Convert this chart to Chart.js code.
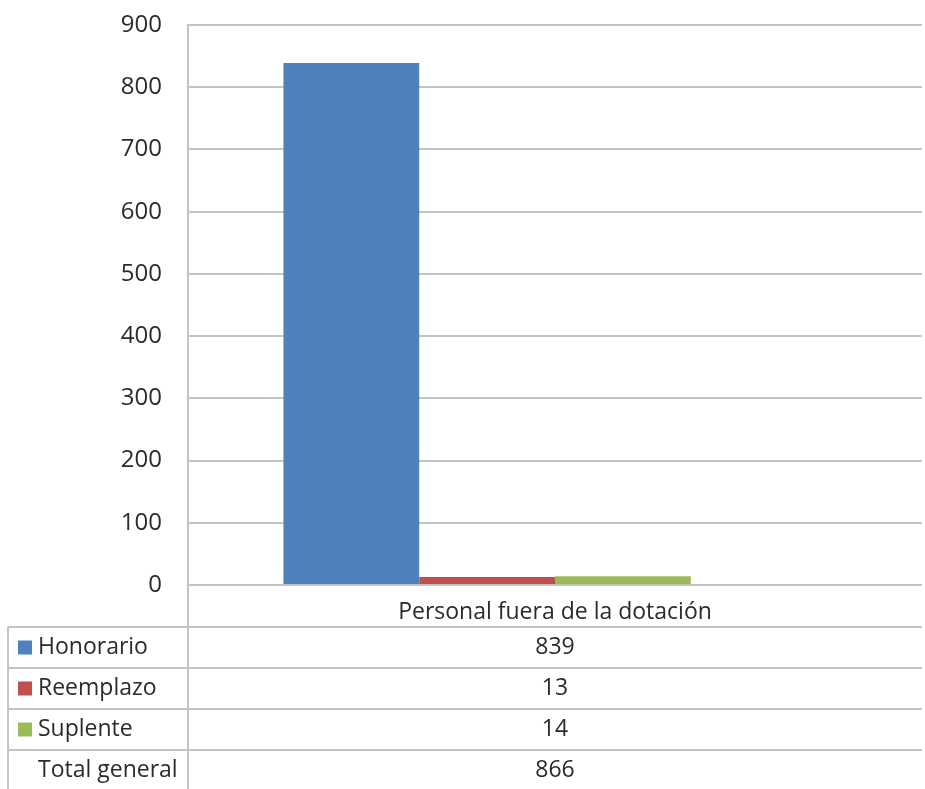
<!DOCTYPE html>
<html>
<head>
<meta charset="utf-8">
<script src="https://cdn.jsdelivr.net/npm/chart.js@4/dist/chart.umd.min.js"></script>
<style>
  body { margin: 0; background: #fff; }
  canvas { display: block; }
</style>
</head>
<body>
<canvas id="chart" width="925" height="789"></canvas>
<script>
// Datos
const categories = ['Personal fuera de la dotación'];
const seriesNames = ['Honorario', 'Reemplazo', 'Suplente', 'Total general'];
const honorario = [839];
const reemplazo = [13];
const suplente = [14];
const totalGeneral = [866];
const yTicks = [0, 100, 200, 300, 400, 500, 600, 700, 800, 900];

const colors = ['#4F81BD', '#C0504D', '#9BBB59', 'rgba(0,0,0,0)'];
const seriesValues = [honorario, reemplazo, suplente, totalGeneral];

const FONT = '"Open Sans", sans-serif';
const GRID = '#c4c4c4';
const TEXT = '#2b2b2b';
const xAxisHeight = 42;
const rowH = 41;

// Tabla de datos bajo el gráfico
const dataTable = {
    id: 'dataTable',
    afterDraw(chart) {
        const { ctx, chartArea } = chart;
        const left = 8;
        const top = chartArea.bottom + xAxisHeight;
        const bottom = chart.height;
        ctx.save();
        ctx.strokeStyle = GRID;
        ctx.lineWidth = 2;
        // lineas horizontales
        for (let i = 0; i < seriesNames.length; i++) {
            const y = top + i * rowH;
            ctx.beginPath();
            ctx.moveTo(left, y);
            ctx.lineTo(chartArea.right, y);
            ctx.stroke();
        }
        // lineas verticales
        ctx.beginPath();
        ctx.moveTo(left, top);
        ctx.lineTo(left, bottom);
        ctx.moveTo(chartArea.left, chartArea.bottom);
        ctx.lineTo(chartArea.left, bottom);
        ctx.stroke();

        ctx.font = '23px ' + FONT;
        ctx.textBaseline = 'middle';
        const xs = chart.scales.x;
        seriesNames.forEach((name, i) => {
            const cy = top + i * rowH + rowH / 2;
            if (i < 3) {
                ctx.fillStyle = colors[i];
                ctx.fillRect(18, cy - 7, 14, 14);
            }
            ctx.fillStyle = TEXT;
            ctx.textAlign = 'left';
            ctx.fillText(name, 38, cy);
            ctx.textAlign = 'center';
            ctx.fillText(String(seriesValues[i][0]), xs.getPixelForValue(0), cy);
        });
        ctx.restore();
    }
};

new Chart(document.getElementById('chart'), {
    type: 'bar',
    data: {
        labels: categories,
        datasets: seriesNames.map((name, i) => ({
            label: name,
            data: seriesValues[i],
            backgroundColor: colors[i],
            borderWidth: 0
        }))
    },
    options: {
        responsive: false,
        animation: false,
        events: [],
        layout: { padding: { left: 0, right: 3, top: 25, bottom: 789 - 585 - xAxisHeight } },
        datasets: { bar: { categoryPercentage: 0.74, barPercentage: 1 } },
        plugins: {
            legend: { display: false },
            tooltip: { enabled: false }
        },
        scales: {
            x: {
                grid: { display: false },
                border: { display: false },
                afterFit: (s) => { s.height = xAxisHeight; s.paddingLeft = 0; s.paddingRight = 0; },
                ticks: { color: TEXT, font: { family: FONT, size: 23 }, padding: 6 }
            },
            y: {
                min: 0,
                max: 900,
                afterFit: (s) => { s.width = 188; s.paddingTop = 0; s.paddingBottom = 0; },
                afterBuildTicks: (s) => { s.ticks = yTicks.map(v => ({ value: v })); },
                grid: { color: GRID, lineWidth: 2, drawTicks: false },
                border: { color: GRID, width: 2 },
                ticks: { color: TEXT, font: { family: FONT, size: 24 }, padding: 26 }
            }
        }
    },
    plugins: [dataTable]
});
</script>
</body>
</html>
